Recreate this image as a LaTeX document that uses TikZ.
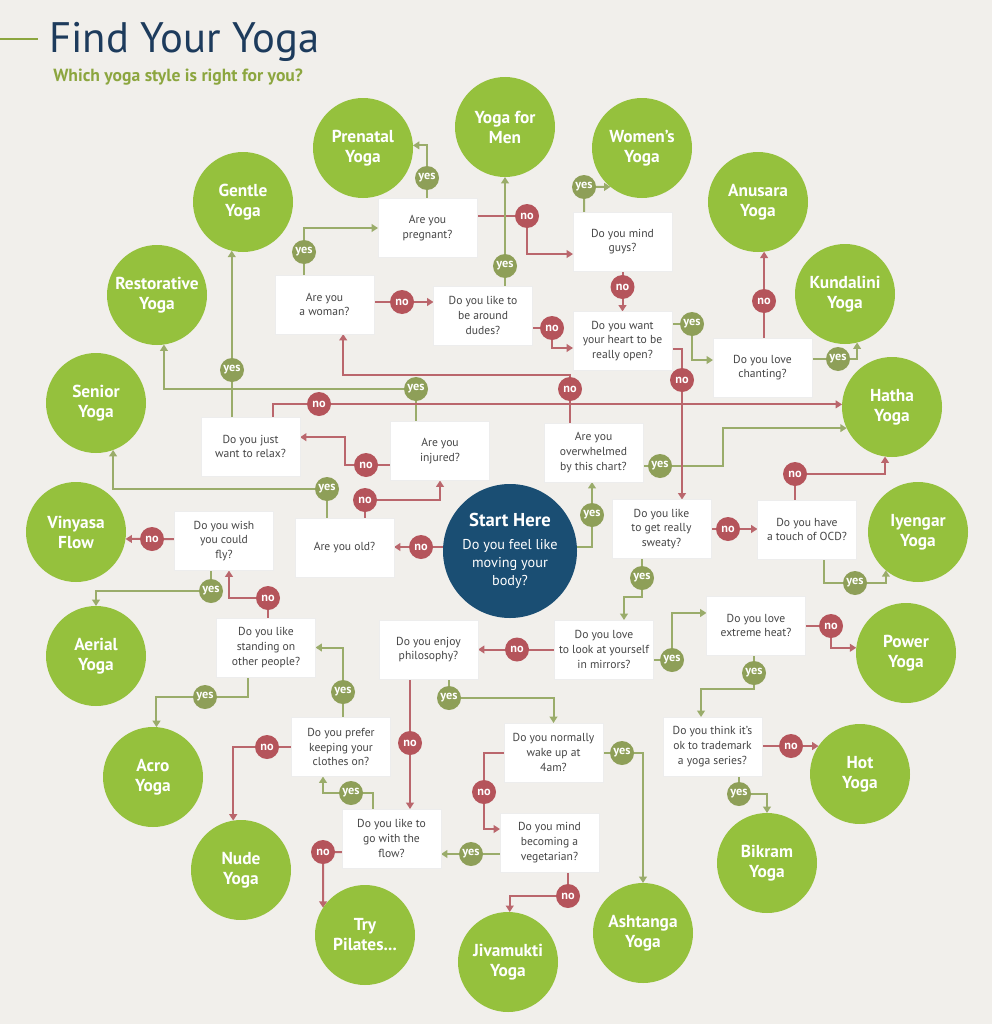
\documentclass[tikz,border=0pt]{standalone}
\usepackage{fontspec}
\setmainfont{PT Sans}
\usetikzlibrary{arrows.meta,calc,shadows}
\definecolor{bgc}{HTML}{F1EFEB}
\definecolor{circg}{HTML}{95C13D}
\definecolor{startb}{HTML}{1A4E73}
\definecolor{yesc}{HTML}{8E9F58}
\definecolor{yesl}{HTML}{9AAC6A}
\definecolor{noc}{HTML}{B5545B}
\definecolor{nol}{HTML}{BA666C}
\definecolor{titlec}{HTML}{1D3B5C}
\definecolor{subc}{HTML}{8CA63F}
\definecolor{qtext}{HTML}{454545}
\pgfdeclarelayer{bg}
\pgfsetlayers{bg,main}
\begin{document}
\begin{tikzpicture}[x=0.75pt,y=-0.75pt,
  yoga/.style={circle, fill=circg, text=white, minimum size=75pt, inner sep=0.5pt, outer sep=0pt, align=center, font=\fontsize{13}{15}\selectfont\bfseries},
  qbox/.style={rectangle, fill=white, draw=black!7, line width=0.4pt, drop shadow={shadow xshift=0.5pt, shadow yshift=-0.6pt, opacity=0.10}, minimum width=74.25pt, minimum height=44.25pt, inner sep=1pt, outer sep=0pt, align=center, text=qtext, font=\fontsize{8.7}{11}\selectfont},
  yesb/.style={circle, fill=yesc, text=white, minimum size=18pt, inner sep=0pt, outer sep=0pt, font=\fontsize{9.2}{9.5}\selectfont\bfseries},
  nob/.style={circle, fill=noc, text=white, minimum size=18pt, inner sep=0pt, outer sep=0pt, font=\fontsize{9.2}{9.5}\selectfont\bfseries},
  yl/.style={draw=yesl, line width=1.5pt, -{Triangle[width=5.8pt,length=4.8pt]}},
  nl/.style={draw=nol, line width=1.5pt, -{Triangle[width=5.8pt,length=4.8pt]}}
]
\useasboundingbox (0,0) rectangle (992,1024);
\begin{pgfonlayer}{bg}
\fill[bgc] (0,0) rectangle (992,1024);
\end{pgfonlayer}

% title
\draw[subc, line width=0.8pt] (0,39) -- (38,39);
\node[anchor=base west, inner sep=0, text=titlec, font=\fontsize{32}{36}\selectfont] (title) at (49,53) {Find Your Yoga};
\node[anchor=base west, inner sep=0, text=subc, font=\fontsize{13.2}{15}\selectfont\bfseries] (subtitle) at (53,82) {Which yoga style is right for you?};

% start
\node[circle, fill=startb, text=white, minimum size=100.5pt, inner sep=1pt, outer sep=0pt, align=center, font=\fontsize{10.7}{13.5}\selectfont] (start) at (510,551) {{\fontsize{14}{16}\selectfont\bfseries Start Here}\\[4pt]Do you feel like\\moving your\\body?};

% yoga circles
\node[yoga] (prenatal) at (363,148) {Prenatal\\Yoga};
\node[yoga] (men) at (505,127) {Yoga for\\Men};
\node[yoga] (women) at (642,148) {Women’s\\Yoga};
\node[yoga] (gentle) at (243,202) {Gentle\\Yoga};
\node[yoga] (anusara) at (758,202) {Anusara\\Yoga};
\node[yoga] (kundalini) at (845,294) {Kundalini\\Yoga};
\node[yoga] (restorative) at (157,295) {Restorative\\Yoga};
\node[yoga] (senior) at (96,403) {Senior\\Yoga};
\node[yoga] (hatha) at (892,407) {Hatha\\Yoga};
\node[yoga] (iyengar) at (918,532) {Iyengar\\Yoga};
\node[yoga] (vinyasa) at (76,532) {Vinyasa\\Flow};
\node[yoga] (aerial) at (96,656) {Aerial\\Yoga};
\node[yoga] (acro) at (153,777) {Acro\\Yoga};
\node[yoga] (power) at (906,653) {Power\\Yoga};
\node[yoga] (hot) at (860,774) {Hot\\Yoga};
\node[yoga] (bikram) at (767,863) {Bikram\\Yoga};
\node[yoga] (nude) at (241,870) {Nude\\Yoga};
\node[yoga] (pilates) at (365,935) {Try\\Pilates...};
\node[yoga] (jivamukti) at (508,962) {Jivamukti\\Yoga};
\node[yoga] (ashtanga) at (643,933) {Ashtanga\\Yoga};

% question boxes
\node[qbox] (pregnant) at (427.5,228) {Are you\\pregnant?};
\node[qbox] (guys) at (622.5,241.5) {Do you mind\\guys?};
\node[qbox] (woman) at (324.5,304.5) {Are you\\a woman?};
\node[qbox] (dudes) at (483,315.5) {Do you like to\\be around\\dudes?};
\node[qbox] (heart) at (622.5,341) {Do you want\\your heart to be\\really open?};
\node[qbox] (chanting) at (762.5,367.5) {Do you love\\chanting?};
\node[qbox] (relax) at (250.5,446.5) {Do you just\\want to relax?};
\node[qbox] (injured) at (440,451) {Are you\\injured?};
\node[qbox] (ovw) at (593.5,452.5) {Are you\\overwhelmed\\by this chart?};
\node[qbox] (sweaty) at (661.5,529) {Do you like\\to get really\\sweaty?};
\node[qbox] (ocd) at (807,529.5) {Do you have\\a touch of OCD?};
\node[qbox] (fly) at (224,541) {Do you wish\\you could\\fly?};
\node[qbox] (old) at (344.5,548) {Are you old?};
\node[qbox] (standing) at (266,647.5) {Do you like\\standing on\\other people?};
\node[qbox] (philosophy) at (428.5,649.5) {Do you enjoy\\philosophy?};
\node[qbox] (mirrors) at (604,649.5) {Do you love\\to look at yourself\\in mirrors?};
\node[qbox] (heat) at (756,625.5) {Do you love\\extreme heat?};
\node[qbox] (clothes) at (341,747) {Do you prefer\\keeping your\\clothes on?};
\node[qbox] (wake) at (553.5,752.5) {Do you normally\\wake up at\\4am?};
\node[qbox] (trademark) at (712.5,746.5) {Do you think it’s\\ok to trademark\\a yoga series?};
\node[qbox] (flow) at (391.5,838.5) {Do you like to\\go with the\\flow?};
\node[qbox] (veg) at (549.5,842.5) {Do you mind\\becoming a\\vegetarian?};

% badges
\node[nob] (b1) at (421,547) {no};
\node[yesb] (b2) at (592,515) {yes};
\node[nob] (b3) at (365,500) {no};
\node[yesb] (b4) at (327,489) {yes};
\node[nob] (b5) at (366,465) {no};
\node[yesb] (b6) at (416,389) {yes};
\node[yesb] (b7) at (232,370) {yes};
\node[nob] (b8) at (319,404) {no};
\node[nob] (b9) at (570,389) {no};
\node[yesb] (b10) at (660,466) {yes};
\node[nob] (b11) at (682,380) {no};
\node[yesb] (b12) at (692,324) {yes};
\node[nob] (b13) at (764,301) {no};
\node[yesb] (b14) at (838,359) {yes};
\node[nob] (b15) at (622.5,287) {no};
\node[yesb] (b16) at (584,187) {yes};
\node[yesb] (b17) at (427,178) {yes};
\node[nob] (b18) at (527,216) {no};
\node[yesb] (b19) at (505,266) {yes};
\node[nob] (b20) at (552,328) {no};
\node[nob] (b21) at (402,302) {no};
\node[yesb] (b22) at (304,252) {yes};
\node[nob] (b23) at (728,529) {no};
\node[yesb] (b24) at (642,578) {yes};
\node[nob] (b25) at (795,474) {no};
\node[yesb] (b26) at (855,583) {yes};
\node[nob] (b27) at (517,649.5) {no};
\node[yesb] (b28) at (672,660) {yes};
\node[nob] (b29) at (831,626) {no};
\node[yesb] (b30) at (754,673) {yes};
\node[nob] (b31) at (791,746) {no};
\node[yesb] (b32) at (739,794) {yes};
\node[nob] (b33) at (410,743) {no};
\node[yesb] (b34) at (449,698) {yes};
\node[yesb] (b35) at (622,753) {yes};
\node[nob] (b36) at (484,792) {no};
\node[yesb] (b37) at (471,854) {yes};
\node[nob] (b38) at (568,896) {no};
\node[yesb] (b39) at (351,793) {yes};
\node[nob] (b40) at (323,852) {no};
\node[yesb] (b41) at (343,692) {yes};
\node[nob] (b42) at (267,747) {no};
\node[nob] (b43) at (268,598) {no};
\node[yesb] (b44) at (205,697) {yes};
\node[nob] (b45) at (152,539) {no};
\node[yesb] (b46) at (211,591) {yes};

\begin{pgfonlayer}{bg}
% start
\draw[nl] (start.center |- b1) -- (old.east |- b1);
\draw[yl] ([yshift=3pt]start.center) -| (b2.center) -- (b2 |- ovw.south);
% old
\draw[nl] (b3 |- old.center) -- (b3.center) -| (injured.south);
\draw[yl] (b4 |- old.center) -- (b4.center) -| (senior.-70);
% injured
\draw[nl] (injured.center |- b5) -- (b5.center) -- ++(-21,0) |- ([yshift=7pt]relax.east);
\draw[yl] (b6 |- injured.center) -- (b6.center) -| (restorative.-82);
% relax
\draw[yl] (gentle.-103 |- relax.center) -- (gentle.-103);
\draw[nl] ([xshift=17pt]relax.center) |- (hatha.177);
% overwhelmed
\draw[nl] (b9 |- ovw.center) -- (b9 |- 0,375) -| ([xshift=14pt]woman.south);
\draw[yl] (ovw.center |- b10) -- (b10.center) -- ++(63,0) |- (hatha.205);
% heart
\draw[nl] ([yshift=-6pt]heart.center) -| (b11.center) -- (b11 |- sweaty.north);
\draw[yl] (heart.center |- b12) -- (b12.center) |- ([yshift=5.6pt]chanting.west);
% chanting
\draw[nl] (anusara.-83 |- chanting.center) -- (anusara.-83);
\draw[yl] (chanting.center |- b14) -- (b14.center) -| (kundalini.-76);
% guys
\draw[nl] (guys.center) -- (heart.north);
\draw[yl] (b16 |- guys.center) -- (b16.center) -- (women.231);
% pregnant
\draw[yl] (b17 |- pregnant.center) |- (prenatal.3);
\draw[nl] (pregnant.center |- b18) -- (b18.center) |- ([yshift=-9.4pt]guys.west);
% dudes
\draw[yl] (men.south |- dudes.center) -- (men.south);
\draw[nl] (dudes.center |- b20) -- (b20.center) |- ([yshift=-5.25pt]heart.west);
% woman
\draw[nl] (woman.center |- b21) -- (dudes.west |- b21);
\draw[yl] (b22 |- woman.center) |- (pregnant.west);
% sweaty
\draw[nl] (sweaty.center) -- (sweaty.center -| ocd.west);
\draw[yl] (b24 |- sweaty.center) -- (b24.center) -- ++(0,19) -| ([xshift=15pt]mirrors.north);
% ocd
\draw[nl] (b25 |- ocd.center) -- (b25.center) -| (hatha.-98);
\draw[yl] ([xshift=12.75pt]ocd.center) |- (b26.center) -| (iyengar.-130);
% mirrors
\draw[nl] (mirrors.center) -- (mirrors.center -| philosophy.east);
\draw[yl] (mirrors.center |- b28) -- (b28.center) |- ([yshift=9.4pt]heat.west);
% heat
\draw[nl] (heat.center |- b29) -- (b29.center) |- (power.174);
\draw[yl] (b30 |- heat.center) -- (b30.center) -- ++(0,16) -| ([xshift=-8.6pt]trademark.north);
% trademark
\draw[nl] (trademark.center |- hot.146) -- (hot.146);
\draw[yl] (b32 |- trademark.center) -- (b32.center) -| (bikram.north);
% philosophy
\draw[nl] (b33 |- philosophy.center) -- (b33 |- flow.north);
\draw[yl] (b34 |- philosophy.center) -- (b34.center) -| (wake.north);
% wake
\draw[yl] (wake.center |- b35) -- (b35.center) -| (ashtanga.north);
\draw[nl] (wake.center) -| (b36.center) |- ([yshift=10.1pt]veg.west);
% veg
\draw[yl] (veg.center |- b37) -- (flow.east |- b37);
\draw[nl] (b38 |- veg.center) -- (b38.center) -| (jivamukti.88);
% flow
\draw[yl] ([xshift=-13.9pt]flow.center) |- (b39.center) -| ([xshift=-13.5pt]clothes.south);
\draw[nl] (flow.center |- b40) -- (b40.center) -- (pilates.147);
% clothes
\draw[yl] (b41 |- clothes.center) |- (standing.east);
\draw[nl] (clothes.center) -| (nude.99);
% standing
\draw[nl] (b43 |- standing.center) -- (b43.center) -| ([xshift=3.75pt]fly.south);
\draw[yl] ([xshift=-13.5pt]standing.center) |- (b44.center) -| (acro.86);
% fly
\draw[nl] (fly.center |- b45) -- (b45.center) -- (vinyasa.-8);
\draw[yl] (b46 |- fly.center) -- (b46.center) -| (aerial.north);
\end{pgfonlayer}
\end{tikzpicture}
\end{document}
